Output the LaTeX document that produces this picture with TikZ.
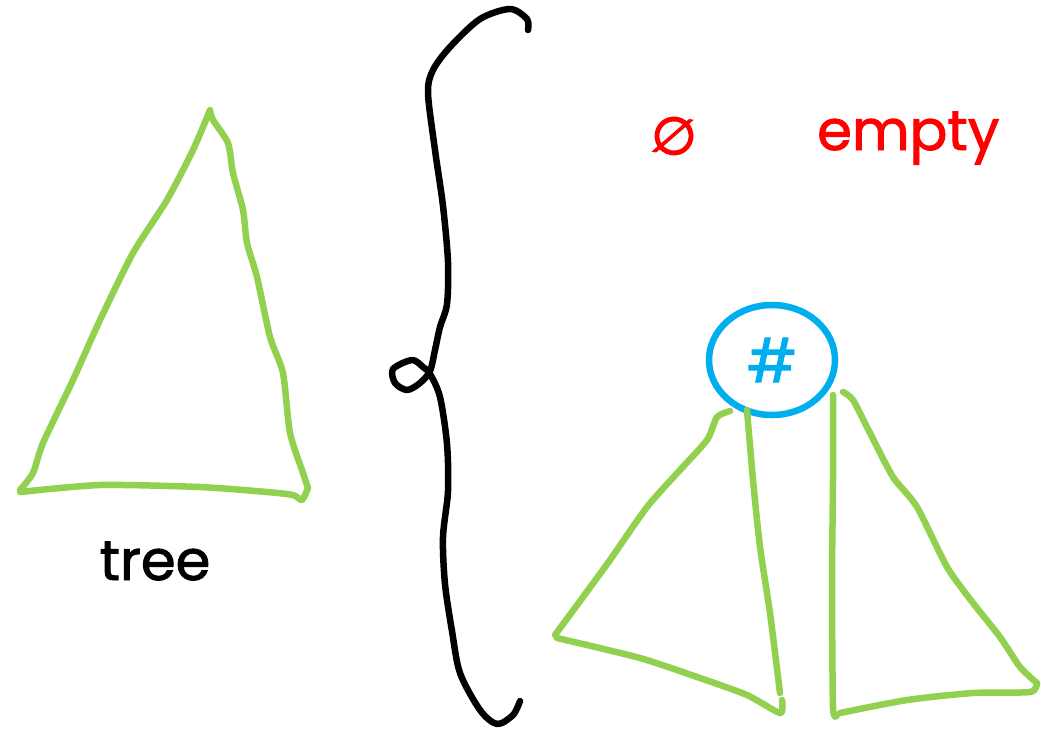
\documentclass[tikz,border=0pt]{standalone}
\usepackage{fontspec}
\newfontfamily\handfont{Poppins}[FakeBold=1.6]
\newfontfamily\symbolfont{DejaVu Sans}[FakeBold=3]
\usetikzlibrary{shapes.geometric}
\definecolor{leafgreen}{HTML}{92D050}
\definecolor{nodeblue}{HTML}{00AEEF}
\definecolor{nilred}{HTML}{FF0000}

\begin{document}
\begin{tikzpicture}[x=1pt,y=-1pt,
    pen/.style={line width=6.5pt,line cap=round,line join=round},
    subtree/.style={pen,leafgreen},
    label/.style={font=\handfont\fontsize{56}{56}\selectfont,inner sep=0pt}]
  \useasboundingbox (0,0) rectangle (1041,732);
  % the tree on its own
  \draw[subtree] plot[smooth,tension=0.4] coordinates {(210,110) (193,150) (167,200)
    (133,253) (100,320) (73,380) (43,443) (33,473) (20,490)}
    plot[smooth,tension=0.4] coordinates {(20,492) (100,485) (200,487) (267,492)
    (293,495) (302,500) (308,488)}
    plot[smooth,tension=0.4] coordinates {(308,488) (303,473) (290,433) (283,373) (270,337)
    (257,277) (247,243) (243,210) (233,173) (228,143) (213,120) (210,110)};
  \node[label,anchor=base] (treetext) at (155,580) {tree};
  % the brace
  \draw[pen,black] plot[smooth,tension=0.5] coordinates {(528,30) (527,19) (510,9)
    (480,19) (450,47) (433,70) (428,93) (435,150) (443,206) (448,262) (447,304)
    (440,327) (435,350) (430,371) (420,383) (407,390) (395,383) (393,369) (412,360)
    (423,367) (430,374) (440,397)
    (447,444) (448,491) (443,537) (445,584) (452,631) (460,673) (480,710) (497,724)
    (513,715) (520,701)};
  % either empty ...
  \node[nilred,font=\symbolfont\fontsize{52}{52}\selectfont,inner sep=0pt,rotate=-10] (nil) at (674,136) {∅};
  \node[label,nilred,anchor=base west] (emptytext) at (817,150) {empty};
  % ... or a node with two subtrees
  \node[draw=nodeblue,line width=6.5pt,ellipse,minimum width=126pt,minimum height=110pt,
    text=nodeblue,font=\handfont\fontsize{60}{60}\selectfont] (root) at (772,360) {\#};
  \draw[subtree] plot[smooth,tension=0.4] coordinates {(730,411) (717,417) (707,440)
    (680,470) (647,507) (610,560) (583,597) (555,635)}
    plot[smooth,tension=0.4] coordinates {(557,638) (640,658) (700,678) (747,695)
    (780,713) (782,700)}
    plot[smooth,tension=0.4] coordinates {(780,693) (770,613) (760,547) (753,480) (747,410)};
  \draw[subtree] plot[smooth,tension=0.4] coordinates {(833,395) (833,480) (832,580)
    (833,707) (837,715)}
    plot[smooth,tension=0.4] coordinates {(840,713) (907,700) (973,693) (1030,692) (1037,683)}
    plot[smooth,tension=0.4] coordinates {(1037,683) (1020,667) (1000,637) (973,603) (947,567)
    (917,507) (893,477) (870,433) (853,400) (843,392)};
\end{tikzpicture}
\end{document}
